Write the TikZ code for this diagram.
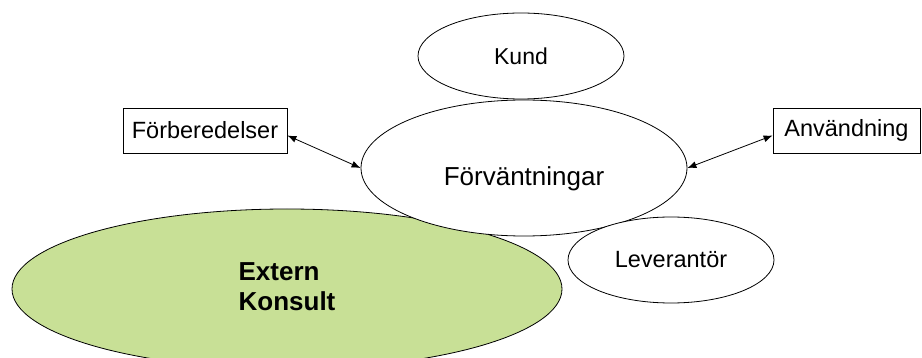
\documentclass[tikz,border=0pt]{standalone}
\usepackage{fontspec}
\setmainfont{Liberation Sans}
\usetikzlibrary{shapes.geometric,arrows.meta}
\definecolor{konsultgreen}{RGB}{200,224,150}
\begin{document}
\begin{tikzpicture}[x=1pt,y=-1pt,
  oval/.style={ellipse,draw=black,line width=0.8pt,fill=white,inner sep=0pt},
  labelbox/.style={rectangle,draw=black,line width=0.8pt,fill=white,inner sep=0pt,font=\fontsize{23.5}{26}\selectfont},
  link/.style={line width=0.8pt,{Latex[length=9pt,width=7pt]}-{Latex[length=9pt,width=7pt]}}
]
\useasboundingbox (0,0) rectangle (922,358);

% large green ellipse at the bottom left
\node[oval,fill=konsultgreen,minimum width=550pt,minimum height=160pt,
      font=\bfseries\fontsize{26}{30}\selectfont,align=left]
  (konsult) at (287,289) {\raisebox{4pt}{Extern}\\\raisebox{4pt}{Konsult}};

% central ellipse and its neighbours; its text sits a little below the middle
\node[oval,minimum width=326pt,minimum height=136pt,
      font=\fontsize{26}{28}\selectfont] (forv) at (524,168)
  {\makebox[0pt]{\raisebox{-18pt}[0pt][0pt]{Förväntningar}}};
\node[oval,minimum width=206pt,minimum height=86pt,
      font=\fontsize{23}{26}\selectfont] (kund) at (521,56) {Kund};
\node[oval,minimum width=206pt,minimum height=86pt,
      font=\fontsize{23.5}{26}\selectfont] (lev) at (671,260) {Leverantör};

% side boxes
\node[labelbox,minimum width=164pt,minimum height=45pt] (forb) at (205,130.5) {Förberedelser};
\node[labelbox,minimum width=147pt,minimum height=45pt] (anv) at (846.5,130.5) {Användning};

% double-headed connectors
\draw[link] ([yshift=-5pt]forb.east) -- (forv.west);
\draw[link] ([yshift=-5pt]anv.west) -- (forv.east);
\end{tikzpicture}
\end{document}
